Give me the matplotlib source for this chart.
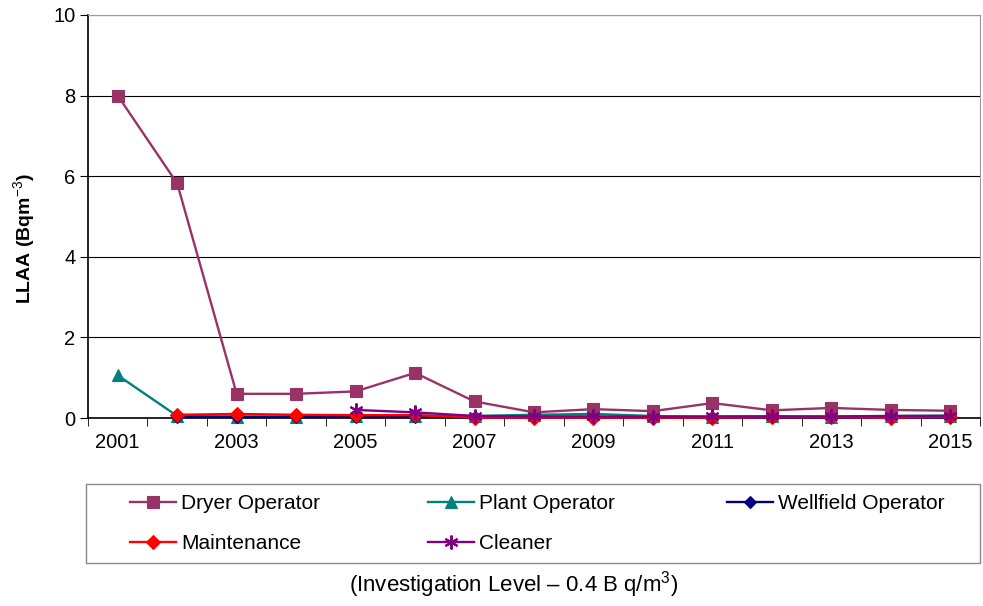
import matplotlib
matplotlib.use("Agg")
from matplotlib import pyplot as plt
from matplotlib.patches import Rectangle
import numpy as np

plt.rcParams['font.family'] = ['Liberation Sans', 'DejaVu Sans']
plt.rcParams['mathtext.fontset'] = 'custom'
plt.rcParams['mathtext.rm'] = 'Liberation Sans'
plt.rcParams['mathtext.bf'] = 'Liberation Sans:bold'

years = list(range(2001, 2016))
dryer = [8.0, 5.82, 0.6, 0.6, 0.66, 1.12, 0.41, 0.14, 0.22, 0.17, 0.37, 0.19, 0.25, 0.2, 0.18]
plant = [1.06, 0.05, 0.03, 0.03, 0.04, 0.06, 0.05, 0.08, 0.1, 0.05, 0.03, 0.04, 0.03, 0.05, 0.06]
wellfield = [None, 0.03, 0.03, 0.03, 0.03, 0.03, 0.02, 0.02, 0.02, 0.02, 0.02, 0.02, 0.02, 0.02, 0.02]
maintenance = [None, 0.08, 0.1, 0.08, 0.07, 0.07, 0.01, 0.01, 0.01, 0.01, 0.01, 0.02, 0.02, 0.01, 0.03]
cleaner = [None, None, None, None, 0.2, 0.14, 0.05, 0.04, 0.04, 0.03, 0.04, 0.04, 0.04, 0.05, 0.05]

series = [
    ("Dryer Operator", dryer, "#993366", "s", 9),
    ("Plant Operator", plant, "#008080", "^", 9),
    ("Wellfield Operator", wellfield, "#000080", "D", 6),
    ("Maintenance", maintenance, "#FF0000", "D", 7),
    ("Cleaner", cleaner, "#800080", (6, 2, 0), 10),
]

fig = plt.figure(figsize=(9.83, 6.06), dpi=100)
ax = fig.add_axes([88 / 983, 1 - 418 / 606, (980 - 88) / 983, (418 - 15) / 606])

x = np.arange(len(years))
handles = {}
for name, vals, col, mk, ms in series:
    v = np.array([np.nan if a is None else a for a in vals], dtype=float)
    ln, = ax.plot(x, v, color=col, marker=mk, markersize=ms, linewidth=1.7,
                  markeredgecolor=col, markeredgewidth=1.5 if mk == (6, 2, 0) else 0.8,
                  label=name, clip_on=False, zorder=3)
    handles[name] = ln

ax.set_xlim(-0.5, len(years) - 0.5)
ax.set_ylim(0, 10)
ax.set_yticks([0, 2, 4, 6, 8, 10])
ax.set_xticks(x[::2])
ax.set_xticklabels([str(y) for y in years[::2]])
ax.set_xticks(np.arange(-0.5, len(years), 1), minor=True)
ax.tick_params(axis='x', which='major', length=0, labelsize=14.5, pad=11)
ax.tick_params(axis='x', which='minor', length=6, direction='out', color='black')
ax.tick_params(axis='y', length=6, direction='out', labelsize=14.5, color='black', pad=3)
ax.grid(axis='y', color='black', linewidth=0.8)
ax.set_axisbelow(True)
for s in ['top', 'right']:
    ax.spines[s].set_color('#999999')
for s in ['left', 'bottom']:
    ax.spines[s].set_color('black')
    ax.spines[s].set_linewidth(1.2)
ax.set_ylabel("LLAA (Bqm$^{-3}$)", fontsize=14, fontweight='bold')
ax.yaxis.set_label_coords(-0.056, (418 - 238) / 403)

# legend box with fixed-width columns, filled row by row like the original
fig.patches.append(Rectangle((86 / 983, 1 - 563 / 606), (980 - 86) / 983, 79 / 606,
                             transform=fig.transFigure, fill=False, edgecolor='#888888',
                             linewidth=1.0))
columns = [["Dryer Operator", "Maintenance"], ["Plant Operator", "Cleaner"], ["Wellfield Operator"]]
col_x = [130, 428, 727]
for names, cx in zip(columns, col_x):
    fig.legend([handles[n] for n in names], names, loc='upper left',
               bbox_to_anchor=(cx / 983, 1 - 494 / 606), ncol=1, fontsize=15,
               frameon=False, handlelength=2.2, borderpad=0, borderaxespad=0,
               labelspacing=1.02, handletextpad=0.24)

fig.text(514 / 983, 1 - 585 / 606, "(Investigation Level \u2013 0.4 B q/m$^{3}$)",
         ha='center', va='center', fontsize=16)

fig.savefig("out.png", dpi=100)
